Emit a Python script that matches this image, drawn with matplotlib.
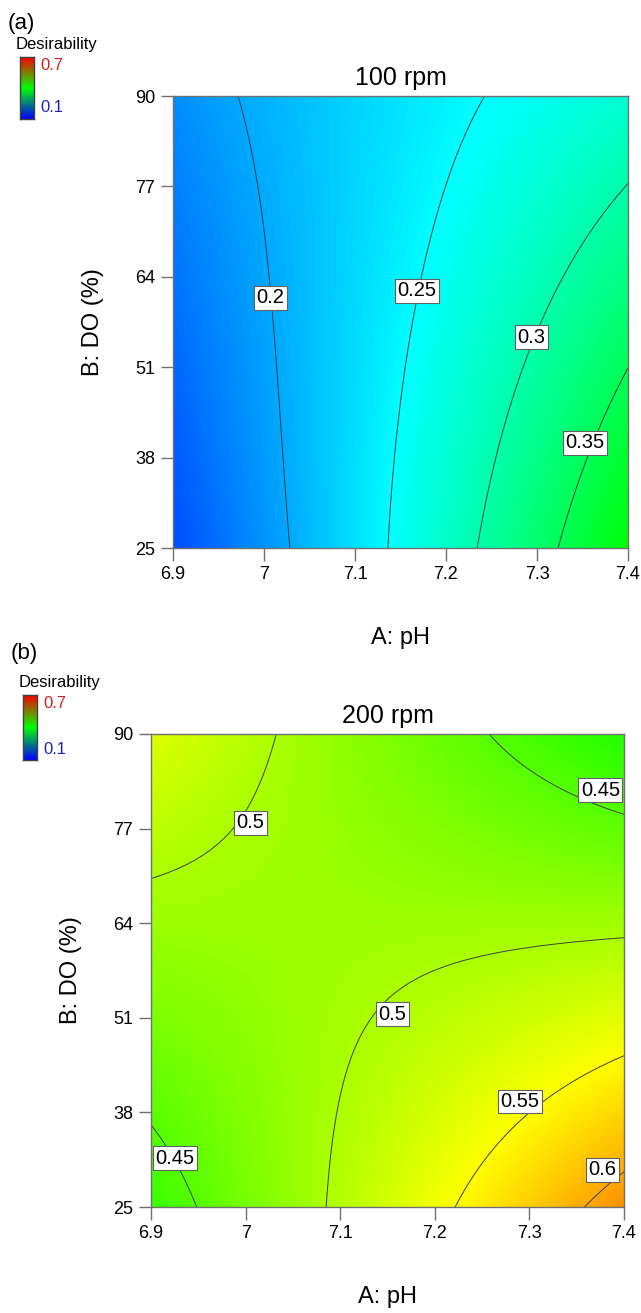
import numpy as np
import matplotlib
matplotlib.use('Agg')
import matplotlib.pyplot as plt
from matplotlib.colors import LinearSegmentedColormap

plt.rcParams['font.family'] = ['Liberation Sans', 'DejaVu Sans']

# axis grid (tick positions)
ph_ticks = [6.9, 7.0, 7.1, 7.2, 7.3, 7.4]
ph_labels = ['6.9', '7', '7.1', '7.2', '7.3', '7.4']
do_ticks = [25, 38, 51, 64, 77, 90]

# desirability at the tick grid
# rows: DO 25 -> 90, cols: pH 6.9 -> 7.4
desir_100 = [
    [0.145, 0.190, 0.231, 0.282, 0.338, 0.396],
    [0.153, 0.194, 0.229, 0.274, 0.323, 0.374],
    [0.160, 0.197, 0.228, 0.266, 0.308, 0.351],
    [0.168, 0.201, 0.226, 0.258, 0.292, 0.324],
    [0.175, 0.204, 0.225, 0.250, 0.276, 0.298],
    [0.183, 0.208, 0.223, 0.242, 0.261, 0.278],
]
desir_200 = [
    [0.433, 0.469, 0.506, 0.542, 0.578, 0.615],
    [0.452, 0.476, 0.501, 0.525, 0.550, 0.575],
    [0.471, 0.483, 0.496, 0.509, 0.522, 0.534],
    [0.492, 0.490, 0.491, 0.492, 0.493, 0.494],
    [0.511, 0.500, 0.487, 0.476, 0.465, 0.454],
    [0.530, 0.508, 0.484, 0.462, 0.442, 0.420],
]
levels_100 = [0.2, 0.25, 0.3, 0.35]
levels_200 = [0.45, 0.5, 0.55, 0.6]
titles = ['100 rpm', '200 rpm']

fill_cmap = LinearSegmentedColormap.from_list(
    'de', ['#0000ff', '#00ffff', '#00ff00', '#ffff00', '#ff0000'])
bar_cmap = LinearSegmentedColormap.from_list('bar', ['#0000ff', '#00ff00', '#ff0000'])


def response_surface(z, n=241):
    # smooth polynomial surface through the read grid values
    A, B = np.meshgrid(ph_ticks, do_ticks)
    z = np.asarray(z)

    def terms(a, b):
        x = (a - 7.15) / 0.25
        y = (b - 57.5) / 32.5
        return np.stack([np.ones_like(x), x, y, x * y, x**2, y**2,
                         x**2 * y, x * y**2, x**3, y**3], axis=-1)

    coef, *_ = np.linalg.lstsq(terms(A, B).reshape(-1, 10), z.ravel(), rcond=None)
    a = np.linspace(ph_ticks[0], ph_ticks[-1], n)
    b = np.linspace(do_ticks[0], do_ticks[-1], n)
    AA, BB = np.meshgrid(a, b)
    return AA, BB, terms(AA, BB) @ coef


W, H = 641, 1313
fig = plt.figure(figsize=(W / 100, H / 100), dpi=100)


def px_rect(x0, y0, x1, y1):
    return [x0 / W, 1 - y1 / H, (x1 - x0) / W, (y1 - y0) / H]


# label boxes: (level, pH, DO) where each contour value is printed
panels = [
    dict(rect=(173, 96, 628, 548), bar=(20, 57, 34, 119), tag='(a)', tag_xy=(21, 24),
         z=desir_100, levels=levels_100,
         labels=[(0.2, 7.007, 61), (0.25, 7.168, 62), (0.3, 7.294, 55.3),
                 (0.35, 7.353, 40.1)]),
    dict(rect=(151, 734, 624, 1207), bar=(23, 695, 37, 760), tag='(b)', tag_xy=(24, 653),
         z=desir_200, levels=levels_200,
         labels=[(0.5, 7.005, 77.8), (0.45, 7.375, 82.3), (0.5, 7.155, 51.5),
                 (0.55, 7.29, 39.5), (0.6, 7.377, 30.1), (0.45, 6.925, 31.7)]),
]

for p, title in zip(panels, titles):
    x0, y0, x1, y1 = p['rect']
    ax = fig.add_axes(px_rect(x0, y0, x1, y1))
    AA, BB, ZZ = response_surface(p['z'])
    ax.pcolormesh(AA, BB, ZZ, cmap=fill_cmap, vmin=0.1, vmax=0.7, shading='gouraud')
    ax.contour(AA, BB, ZZ, levels=p['levels'], colors='#404040', linewidths=0.7)
    for lev, lx, ly in p['labels']:
        ax.text(lx, ly, f'{lev:g}', fontsize=14.5, ha='center', va='center',
                bbox=dict(boxstyle='square,pad=0.12', fc='white', ec='#606060', lw=0.8))

    ax.set_xlim(ph_ticks[0], ph_ticks[-1])
    ax.set_ylim(do_ticks[0], do_ticks[-1])
    ax.set_xticks(ph_ticks)
    ax.set_xticklabels(ph_labels)
    ax.set_yticks(do_ticks)
    ax.tick_params(direction='out', length=9, width=1, color='#707070',
                   labelsize=13, pad=4)
    for s in ax.spines.values():
        s.set_color('#707070')
        s.set_linewidth(1)
    ax.set_title(title, fontsize=18, pad=8)
    ax.set_xlabel('A: pH', fontsize=17)
    ax.set_ylabel('B: DO (%)', fontsize=17)
    w = x1 - x0
    h = y1 - y0
    ax.xaxis.set_label_coords(0.5, -79 / h)
    ax.yaxis.set_label_coords(-69 / w, 0.5)

    # small desirability legend bar
    bx0, by0, bx1, by1 = p['bar']
    cax = fig.add_axes(px_rect(bx0, by0, bx1, by1))
    cax.imshow(np.linspace(0, 1, 100).reshape(-1, 1), origin='lower', aspect='auto',
               cmap=bar_cmap)
    cax.set_xticks([])
    cax.set_yticks([])
    for s in cax.spines.values():
        s.set_color('#404040')
        s.set_linewidth(1)
    fig.text((bx0 - 4) / W, 1 - (by0 - 12) / H, 'Desirability', fontsize=12,
             ha='left', va='center')
    fig.text((bx1 + 6) / W, 1 - (by0 + 9) / H, '0.7', fontsize=12, color='#d02020',
             ha='left', va='center')
    fig.text((bx1 + 6) / W, 1 - (by1 - 11) / H, '0.1', fontsize=12, color='#2020c0',
             ha='left', va='center')
    fig.text(p['tag_xy'][0] / W, 1 - p['tag_xy'][1] / H, p['tag'], fontsize=16,
             ha='center', va='center')

fig.savefig('out.png', dpi=100)
